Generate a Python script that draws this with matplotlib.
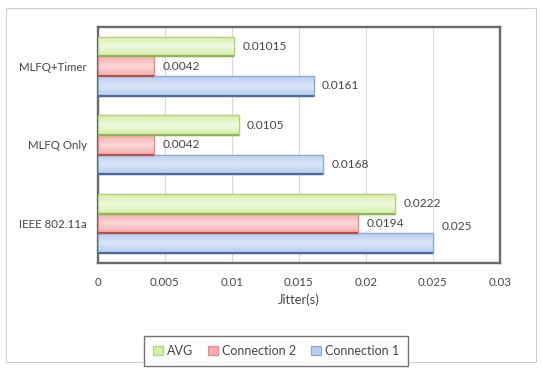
import numpy as np
import matplotlib
matplotlib.use("Agg")
import matplotlib.pyplot as plt
from matplotlib.patches import Rectangle
from matplotlib.colors import LinearSegmentedColormap

categories = ["IEEE 802.11a", "MLFQ Only", "MLFQ+Timer"]
connection1 = [0.025, 0.0168, 0.0161]
connection2 = [0.0194, 0.0042, 0.0042]
avg = [0.0222, 0.0105, 0.01015]
label_conn1 = ["0.025", "0.0168", "0.0161"]
label_conn2 = ["0.0194", "0.0042", "0.0042"]
label_avg = ["0.0222", "0.0105", "0.01015"]
xticks = [0, 0.005, 0.01, 0.015, 0.02, 0.025, 0.03]
xtick_labels = ["0", "0.005", "0.01", "0.015", "0.02", "0.025", "0.03"]

plt.rcParams["font.family"] = ["Lato", "DejaVu Sans"]
TXT = "#454545"

fig = plt.figure(figsize=(5.42, 3.69), dpi=100)
ax = fig.add_axes([0.1808, 0.2873, 0.7417, 0.6396])

y = np.arange(len(categories))
h = 0.25

series = [
    ("Connection 1", connection1, label_conn1, -h, ("#dbe6f8", "#b7ccf0"), "#8fa9d6", "#4f6a9c"),
    ("Connection 2", connection2, label_conn2, 0.0, ("#fcd6d6", "#f5adad"), "#e08c8a", "#b0524e"),
    ("AVG", avg, label_avg, h, ("#f0f9e0", "#d4efa6"), "#b3d07e", "#93b35a"),
]

handles = {}
for name, vals, labels, off, (c_top, c_bot), edge, shadow in series:
    bars = ax.barh(y + off, vals, height=h, color=c_bot, edgecolor=edge,
                   linewidth=0.9, zorder=3, label=name)
    cmap = LinearSegmentedColormap.from_list(name, [c_bot, c_top, c_bot])
    for bar in bars:
        x0, y0 = bar.get_x(), bar.get_y()
        w, hh = bar.get_width(), bar.get_height()
        grad = np.linspace(0, 1, 64).reshape(-1, 1)
        im = ax.imshow(grad, cmap=cmap, aspect="auto", origin="lower",
                       extent=(x0, x0 + w, y0, y0 + hh), zorder=3.5,
                       interpolation="bicubic")
        im.set_clip_path(bar)
        ax.add_patch(Rectangle((x0, y0), w, hh, fill=False, edgecolor=edge,
                               linewidth=0.9, zorder=4))
        ax.plot([x0, x0 + w], [y0, y0], color=shadow, lw=1.6, zorder=4.5,
                solid_capstyle="butt")
    handles[name] = bars
    for yi, v, lab in zip(y + off, vals, labels):
        dy = 0
        if name == "Connection 1" and v == 0.025:
            dy = 12
        txt = ax.annotate(lab, (v, yi), xytext=(6, dy), textcoords="offset points",
                          va="center", ha="left", fontsize=8.6, color=TXT,
                          zorder=6)
        if name == "Connection 2" and v > 0.01:
            txt.set_bbox(dict(facecolor="white", edgecolor="none", pad=1.0))

ax.set_xlim(0, 0.03)
ax.set_ylim(-0.5, 2.5)
ax.set_xticks(xticks)
ax.set_xticklabels(xtick_labels)
ax.set_yticks(y)
ax.set_yticklabels(categories)
ax.tick_params(axis="both", length=0, labelsize=8.3, labelcolor=TXT, pad=10)
ax.tick_params(axis="y", pad=8)
ax.grid(axis="x", color="#d9d9d9", linewidth=0.8, zorder=0)
ax.set_axisbelow(True)
for sp in ax.spines.values():
    sp.set_color("#6a6a6a")
    sp.set_linewidth(1.7)
ax.set_xlabel("Jitter(s)", fontsize=9.3, color=TXT, labelpad=4)

leg_handles = [handles["AVG"], handles["Connection 2"], handles["Connection 1"]]
leg = fig.legend(leg_handles, ["AVG", "Connection 2", "Connection 1"],
                 loc="center", bbox_to_anchor=(276 / 542, 1 - 351 / 369),
                 ncol=3, fontsize=9.0, frameon=True, fancybox=False,
                 handlelength=0.8, handleheight=0.8, handletextpad=0.3,
                 columnspacing=1.2, borderpad=0.7)
leg.get_frame().set_edgecolor("#505050")
leg.get_frame().set_linewidth(1.0)
for t in leg.get_texts():
    t.set_color(TXT)

fig.patches.append(Rectangle((6 / 542, 1 - 362 / 369), 530 / 542, 354 / 369,
                             transform=fig.transFigure, fill=False,
                             edgecolor="#d0d0d0", linewidth=0.8))

fig.savefig("out.png", dpi=100)
